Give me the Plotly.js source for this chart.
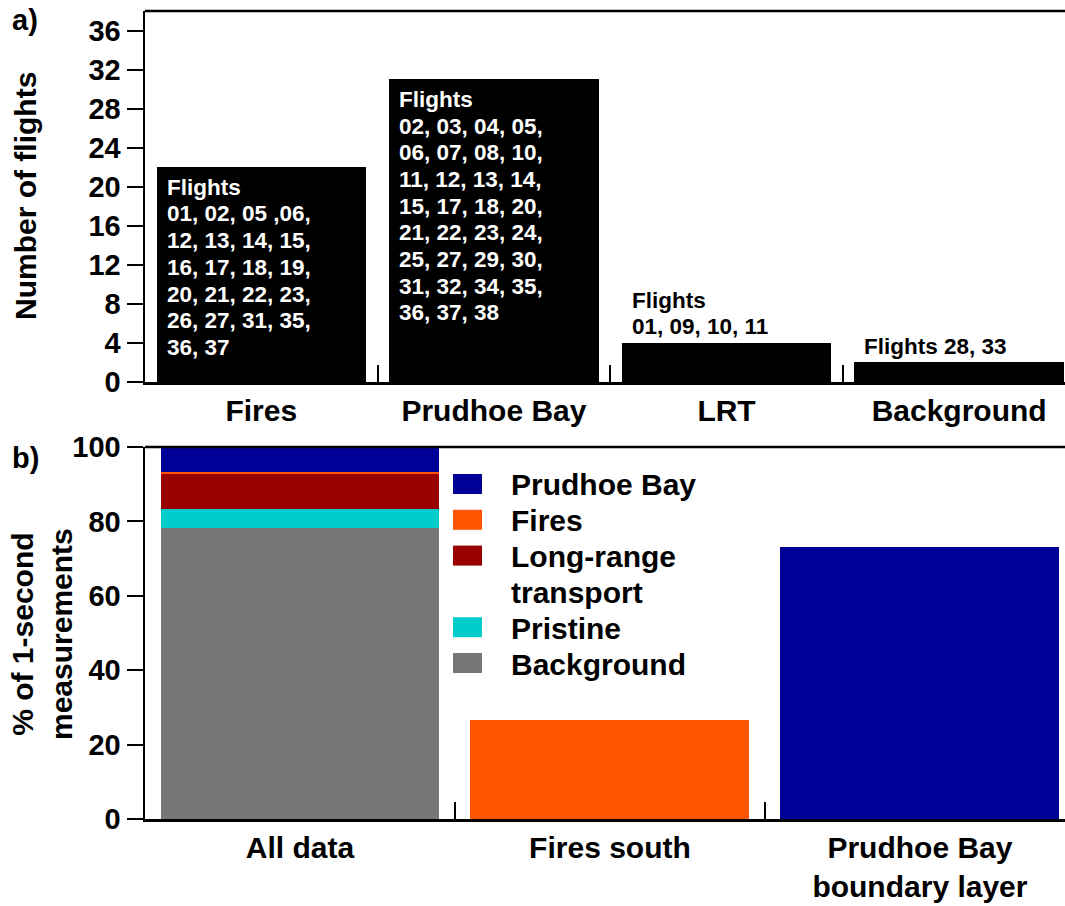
<!DOCTYPE html>
<html>
<head>
<meta charset="utf-8">
<script src="https://cdn.plot.ly/plotly-3.0.1.min.js"></script>
<style>html,body{margin:0;padding:0;background:#fff;}</style>
</head>
<body>
<div id="chart" style="width:1065px;height:906px;"></div>
<script>
// ---- Panel a: number of flights per source category ----
const flightCategories = ["Fires", "Prudhoe Bay", "LRT", "Background"];
const flightCounts = [22, 31, 4, 2];
const flightLists = [
  ["Flights", "01, 02, 05 ,06,", "12, 13, 14, 15,", "16, 17, 18, 19,", "20, 21, 22, 23,", "26, 27, 31, 35,", "36, 37"],
  ["Flights", "02, 03, 04, 05,", "06, 07, 08, 10,", "11, 12, 13, 14,", "15, 17, 18, 20,", "21, 22, 23, 24,", "25, 27, 29, 30,", "31, 32, 34, 35,", "36, 37, 38"],
  ["Flights", "01, 09, 10, 11"],
  ["Flights 28, 33"]
];
const flightTicks = [0, 4, 8, 12, 16, 20, 24, 28, 32, 36];

// ---- Panel b: share of 1-second measurements per air-mass source ----
const periodCategories = ["All data", "Fires south", "Prudhoe Bay<br>boundary layer"];
const backgroundPct = [78.2, 0, 0];
const pristinePct   = [5.1, 0, 0];
const longRangePct  = [9.4, 0, 0];
const firesPct      = [0.5, 26.6, 0];
const prudhoePct    = [6.8, 0, 73.0];
const sourceNames   = ["Background", "Pristine", "Long-range<br>transport", "Fires", "Prudhoe Bay"];
const percentTicks  = [0, 20, 40, 60, 80, 100];

// ---- styling ----
const FONT = "Liberation Sans, Arial, sans-serif";
const W = 1065, H = 906, LEFT = 145;
const sourceColors = ["#777777", "#00CCCC", "#990000", "#FF5500", "#000099"];
const sourceValues = [backgroundPct, pristinePct, longRangePct, firesPct, prudhoePct];

// pixel -> paper helpers (margins: left only)
const px = x => (x - LEFT) / (W - LEFT);
const py = y => 1 - y / H;

const traces = [{
  type: "bar", x: flightCategories, y: flightCounts,
  xaxis: "x", yaxis: "y",
  marker: {color: "#000000", line: {width: 0}},
  hoverinfo: "none", showlegend: false
}];
sourceNames.forEach((name, i) => {
  traces.push({
    type: "bar", name: name, x: periodCategories, y: sourceValues[i],
    xaxis: "x2", yaxis: "y2",
    marker: {color: sourceColors[i], line: {width: 0}},
    hoverinfo: "none", showlegend: false
  });
});

const annotations = [];
// flight lists written on (or just above) each bar of panel a
const pxPerFlight = (382 - 11) / 38;
flightLists.forEach((lines, i) => {
  const inside = flightCounts[i] * pxPerFlight > lines.length * 26.7 + 20;
  lines.forEach((line, k) => {
    annotations.push({
      xref: "x", yref: "y", x: i - 0.45, y: flightCounts[i],
      xanchor: "left", yanchor: "middle",
      xshift: 8,
      yshift: inside ? -(20 + k * 26.7) : (16 + (lines.length - 1 - k) * 26.7),
      text: line, showarrow: false,
      font: {family: FONT, size: 22.5, weight: "bold", color: inside ? "#ffffff" : "#000000"}
    });
  });
});

// axis titles and panel letters
annotations.push({
  xref: "paper", yref: "paper", x: px(25), y: py(196), textangle: -90,
  xanchor: "center", yanchor: "middle", showarrow: false,
  text: "Number of flights", font: {family: FONT, size: 30, weight: "bold", color: "#000"}
});
annotations.push({
  xref: "paper", yref: "paper", x: px(42), y: py(634), textangle: -90,
  xanchor: "center", yanchor: "middle", showarrow: false,
  text: "% of 1-second<br>measurements", font: {family: FONT, size: 30, weight: "bold", color: "#000"}
});
annotations.push({
  xref: "paper", yref: "paper", x: px(25), y: py(20),
  xanchor: "center", yanchor: "middle", showarrow: false,
  text: "a)", font: {family: FONT, size: 29, weight: "bold", color: "#000"}
});
annotations.push({
  xref: "paper", yref: "paper", x: px(25), y: py(458),
  xanchor: "center", yanchor: "middle", showarrow: false,
  text: "b)", font: {family: FONT, size: 29, weight: "bold", color: "#000"}
});

const shapes = [
  // closing top lines of each panel
  {type: "line", xref: "x domain", yref: "y domain", x0: 0, x1: 1, y0: 1, y1: 1, line: {color: "#000", width: 2.5}},
  {type: "line", xref: "x2 domain", yref: "y2 domain", x0: 0, x1: 1, y0: 1, y1: 1, line: {color: "#000", width: 2.5}}
];

// legend for panel b, listed from top of the stack downwards
let row = 0;
for (let i = sourceNames.length - 1; i >= 0; i--) {
  const cy = 484 + row * 35.8;
  shapes.push({
    type: "rect", xref: "paper", yref: "paper",
    x0: px(453), x1: px(482), y0: py(cy - 10), y1: py(cy + 10),
    fillcolor: sourceColors[i], line: {width: 0}
  });
  sourceNames[i].split("<br>").forEach((part, k) => {
    annotations.push({
      xref: "paper", yref: "paper", x: px(509), y: py(cy + 1 + k * 35.8),
      xanchor: "left", yanchor: "middle", showarrow: false,
      text: part, font: {family: FONT, size: 30, weight: "bold", color: "#000"}
    });
    if (k > 0) row++;
  });
  row++;
}

const axisCommon = {
  showline: true, linecolor: "#000", linewidth: 2.5, showgrid: false, zeroline: false,
  tickcolor: "#000", tickwidth: 2, fixedrange: true
};

const layout = {
  width: W, height: H,
  margin: {l: LEFT, r: 0, t: 0, b: 0, pad: 0},
  paper_bgcolor: "#ffffff", plot_bgcolor: "#ffffff",
  barmode: "stack", bargap: 0.1,
  showlegend: false,
  xaxis: Object.assign({}, axisCommon, {
    domain: [0, 1], anchor: "y", type: "category",
    range: [-0.5, 3.455], tickson: "boundaries", ticks: "inside", ticklen: 17,
    tickfont: {family: FONT, size: 30, weight: "bold", color: "#000"}
  }),
  yaxis: Object.assign({}, axisCommon, {
    domain: [py(382), py(11)], anchor: "x",
    range: [0, 38], tickvals: flightTicks, ticks: "outside", ticklen: 16,
    tickfont: {family: FONT, size: 29, weight: "bold", color: "#000"}
  }),
  xaxis2: Object.assign({}, axisCommon, {
    domain: [0, 1], anchor: "y2", type: "category",
    range: [-0.5, 2.468], tickson: "boundaries", ticks: "inside", ticklen: 17,
    tickfont: {family: FONT, size: 30, weight: "bold", color: "#000"}
  }),
  yaxis2: Object.assign({}, axisCommon, {
    domain: [py(819), py(447)], anchor: "x2",
    range: [0, 100], tickvals: percentTicks, ticks: "outside", ticklen: 16,
    tickfont: {family: FONT, size: 29, weight: "bold", color: "#000"}
  }),
  annotations: annotations,
  shapes: shapes
};

Plotly.newPlot("chart", traces, layout, {displayModeBar: false, staticPlot: true});
</script>
</body>
</html>
